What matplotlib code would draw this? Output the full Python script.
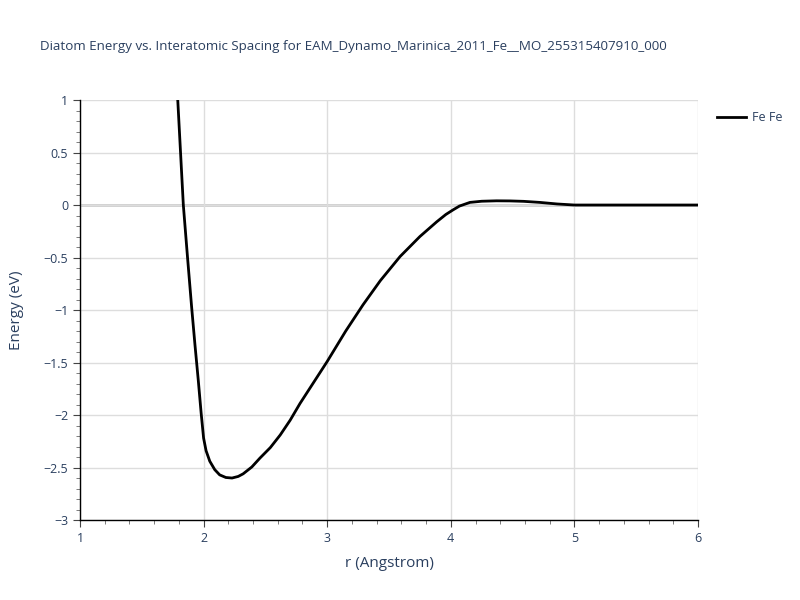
import numpy as np
import matplotlib.pyplot as plt
from matplotlib.ticker import MultipleLocator

plt.rcParams['font.family'] = ['Open Sans', 'DejaVu Sans']

# Fe-Fe diatom energy curve
r = [1.75, 1.79, 1.836, 1.87, 1.903, 1.93, 1.957, 1.98, 2.0, 2.02, 2.05,
     2.09, 2.13, 2.18, 2.23, 2.28, 2.32, 2.39, 2.456, 2.54, 2.62, 2.70,
     2.78, 2.89, 3.00, 3.15, 3.29, 3.43, 3.59, 3.75, 3.886, 3.96, 4.02,
     4.07, 4.155, 4.25, 4.37, 4.48, 4.59, 4.72, 4.86, 5.0, 5.5, 6.0]
energy = [1.6, 1.02, 0.0, -0.5, -0.97, -1.33, -1.67, -1.98, -2.22, -2.34, -2.44,
          -2.52, -2.57, -2.595, -2.60, -2.585, -2.56, -2.495, -2.41, -2.31, -2.19, -2.05,
          -1.89, -1.69, -1.49, -1.20, -0.95, -0.72, -0.49, -0.30, -0.16, -0.09, -0.045,
          -0.01, 0.025, 0.036, 0.04, 0.039, 0.035, 0.025, 0.01, 0.0, 0.0, 0.0]
series_name = "Fe Fe"
title = "Diatom Energy vs. Interatomic Spacing for EAM_Dynamo_Marinica_2011_Fe__MO_255315407910_000"

txt = '#2a3f5f'
fig = plt.figure(figsize=(8, 6), dpi=100)
ax = fig.add_axes([0.1, 0.1333, 0.7725, 0.7])

ax.plot(r, energy, color='black', lw=2, label=series_name, zorder=3)
ax.axhline(0, color='#cccccc', lw=2, zorder=1)

ax.set_xlim(1, 6)
ax.set_ylim(-3, 1)
ax.xaxis.set_major_locator(MultipleLocator(1))
ax.xaxis.set_minor_locator(MultipleLocator(0.2))
ax.yaxis.set_major_locator(MultipleLocator(0.5))
ax.yaxis.set_minor_locator(MultipleLocator(0.1))
ax.grid(True, which='major', color='#dddddd', lw=1, zorder=0)

for s in ['top', 'right']:
    ax.spines[s].set_visible(False)
for s in ['left', 'bottom']:
    ax.spines[s].set_color('black')
    ax.spines[s].set_linewidth(1)

ax.tick_params(which='major', direction='out', length=5, color='#444444',
               labelcolor=txt, labelsize=9)
ax.tick_params(which='minor', direction='out', length=3, color='#666666')
ax.set_yticks([1, 0.5, 0, -0.5, -1, -1.5, -2, -2.5, -3])
ax.set_yticklabels(['1', '0.5', '0', '−0.5', '−1', '−1.5', '−2', '−2.5', '−3'])

ax.set_xlabel("r (Angstrom)", color=txt, fontsize=11, labelpad=8)
ax.set_ylabel("Energy (eV)", color=txt, fontsize=11, labelpad=14)

fig.text(0.05, 0.923, title, color=txt, fontsize=9.6, ha='left', va='center')

ax.legend(loc='upper left', bbox_to_anchor=(1.013, 1.0), frameon=False,
          fontsize=9, labelcolor=txt, handlelength=2.3, handletextpad=0.5)

fig.savefig('out.png', dpi=100)
